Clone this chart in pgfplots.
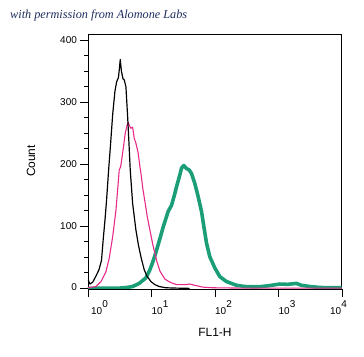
\documentclass[border=0pt]{standalone}
\usepackage{fontspec}
\setmainfont{Liberation Sans}
\newfontfamily\titlefont{Liberation Serif}
\usepackage{graphicx}
\usepackage{pgfplots}
\pgfplotsset{compat=1.18}
\definecolor{tealc}{RGB}{27,158,119}
\definecolor{pinkc}{RGB}{231,41,138}
\definecolor{navyc}{RGB}{30,45,95}
\pgfplotstableread{
x y
1.000 14
1.075 7
1.186 10
1.336 20
1.489 30
1.631 45
1.740 80
1.850 110
1.954 140
2.116 192
2.258 230
2.446 280
2.658 318
2.827 333
3.017 340
3.128 355
3.220 369
3.363 350
3.550 338
3.722 336
3.958 325
4.209 277
4.412 235
4.625 191
5.044 137
5.683 94
6.223 70
6.813 51
7.677 30
8.468 20
9.786 11
11.31 6
13.22 3
16.84 1
23.33 0.5
40 0
}\blackdata
\pgfplotstableread{
x y
1.000 1
1.336 3
1.601 11
1.919 27
2.162 49
2.446 83
2.756 126
2.931 159
3.105 191
3.268 196
3.512 218
3.860 250
4.105 262
4.302 268
4.493 262
4.744 258
5.044 260
5.346 242
5.683 234
6.178 218
6.570 196
6.813 186
7.323 160
7.962 137
8.559 116
9.437 94
10.52 70
12.03 45
13.56 28
16.24 15
19.47 10
24.81 6
33.50 6
40.16 7
48.13 5
64.29 2
92.35 1
245.4 0.5
10000 0.5
}\pinkdata
\pgfplotstableread{
x y
1.000 0
3.185 0.5
4.105 1.5
5.044 3
6.406 8
8.166 17
9.437 30
10.52 43
11.73 58
13.56 80
15.28 99
17.28 116
18.31 124
20.70 134
23.33 153
24.81 164
27.96 183
29.74 194
32.32 198
35.64 193
39.16 191
42.72 185
48.13 169
54.25 148
61.34 124
66.68 100
73.52 73
82.82 51
99.29 33
119.0 19
151.6 11
217.8 5
294.1 3
422.5 2.5
544.3 3
727.1 4.5
1044 7
1395 6.5
1911 8
2291 5
3095 3
4445 1.5
6383 1
9856 1
}\tealdata
\begin{document}
\begin{tikzpicture}
\useasboundingbox (-88bp,-68bp) rectangle (276bp,289bp);
\begin{axis}[
  at={(0,0)}, anchor=south west,
  scale only axis, width=254bp, height=255bp,
  xmode=log, log basis x=10,
  xmin=1, xmax=10000, ymin=-1, ymax=410,
  xtick={1,10,100,1000,10000}, xticklabels={},
  ytick={0,100,200,300,400}, yticklabels={\raisebox{3bp}{0},100,200,300,400},
  minor y tick num=3,
  tick align=outside, tick pos=left,
  major tick length=8bp, minor tick length=4bp,
  tick style={black, line width=0.9pt},
  axis line style={line width=1pt},
  yticklabel style={font=\fontsize{10}{12}\selectfont, inner sep=0pt, xshift=-3bp},
]
\addplot[tealc, line width=3.6pt, line join=round] table {\tealdata};
\addplot[pinkc, line width=1.1pt, line join=round] table {\pinkdata};
\addplot[black, line width=1.2pt, line join=round] table {\blackdata};
\end{axis}
\node[anchor=north west, inner sep=0pt, font=\fontsize{10}{12}\selectfont] at (3bp,-11bp) {10\raisebox{7bp}{0}};
\node[anchor=north west, inner sep=0pt, font=\fontsize{10}{12}\selectfont] at (63.5bp,-11bp) {10\raisebox{7bp}{1}};
\node[anchor=north west, inner sep=0pt, font=\fontsize{10}{12}\selectfont] at (127bp,-11bp) {10\raisebox{7bp}{2}};
\node[anchor=north west, inner sep=0pt, font=\fontsize{10}{12}\selectfont] at (190.5bp,-11bp) {10\raisebox{7bp}{3}};
\node[anchor=north east, inner sep=0pt, font=\fontsize{10}{12}\selectfont] at (259bp,-11bp) {10\raisebox{7bp}{4}};
\node[font=\fontsize{12}{14}\selectfont] at (127bp,-43bp) {FL1-H};
\node[rotate=90, font=\fontsize{12}{14}\selectfont] at (-57bp,128bp) {Count};
\node[anchor=west, inner sep=0pt, text=navyc] at (-78bp,274bp) {\resizebox{177bp}{!}{\titlefont\itshape with permission from Alomone Labs}};
\end{tikzpicture}
\end{document}
